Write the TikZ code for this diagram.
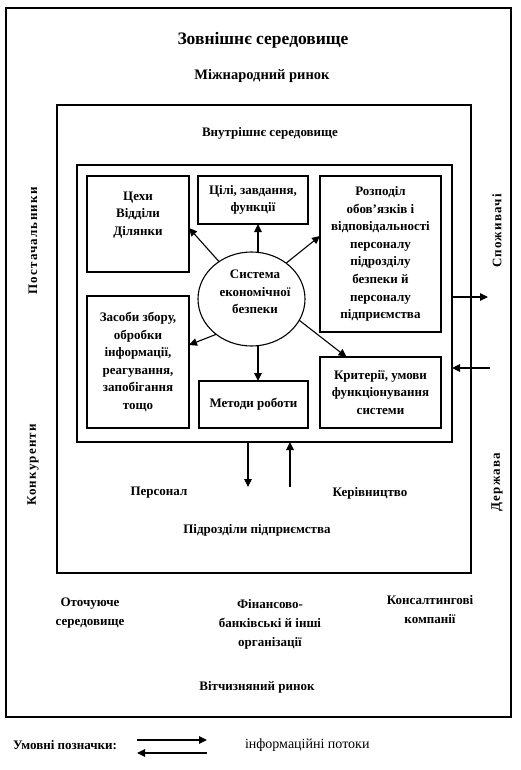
\documentclass[tikz,border=0pt]{standalone}
\usepackage{fontspec}
\setmainfont{Liberation Serif}
\usetikzlibrary{arrows.meta,shapes.geometric}
\begin{document}
\begin{tikzpicture}[x=1pt,y=-1pt,
  every node/.style={inner sep=0pt, outer sep=0pt},
  frame/.style={draw, line width=1.3pt},
  box/.style={draw, line width=1.1pt},
  txt/.style={font=\fontsize{13}{17.6}\selectfont\bfseries, align=center},
  low/.style={font=\fontsize{13}{19}\selectfont\bfseries, align=center},
  side/.style={font=\fontsize{13}{15}\selectfont\bfseries\addfontfeature{LetterSpace=9}, rotate=90},
  arr/.style={line width=1.1pt, -{Triangle[length=8pt,width=7.5pt]}}]
\useasboundingbox (0,0) rectangle (520,770);
% frames
\node[frame, minimum width=505pt, minimum height=709pt] (outer) at (258.5,362.5) {};
\node[frame, minimum width=414pt, minimum height=468pt] (mid) at (264,339) {};
\node[frame, minimum width=375pt, minimum height=277pt] (inner) at (264.5,303.5) {};
% titles
\node[font=\fontsize{17.5}{20}\selectfont\bfseries] (t1) at (263,40) {Зовнішнє середовище};
\node[font=\fontsize{14.5}{17}\selectfont\bfseries] (t2) at (262,76) {Міжнародний ринок};
\node[txt] (t3) at (270,133) {Внутрішнє середовище};
% side labels
\node[side] (s1) at (33,241) {Постачальники};
\node[side] (s2) at (33,465) {Конкуренти};
\node[side] (s3) at (497,231) {Споживачі};
\node[side] (s4) at (497,482) {Держава};
% inner boxes
\node[box, minimum width=102pt, minimum height=96pt] (cekhy) at (138,224) {};
\node[txt] (cekhyt) at (138,215) {Цехи\\Відділи\\Ділянки};
\node[box, txt, minimum width=110pt, minimum height=48pt] (cili) at (253,200) {Цілі, завдання,\\функції};
\node[box, txt, minimum width=121pt, minimum height=156pt] (rozp) at (380.5,254) {Розподіл\\обов'язків і\\відповідальності\\персоналу\\підрозділу\\безпеки й\\персоналу\\підприємства};
\node[box, txt, minimum width=102pt, minimum height=132pt] (zasoby) at (138,362) {Засоби збору,\\обробки\\інформації,\\реагування,\\запобігання\\тощо};
\node[box, txt, minimum width=109pt, minimum height=47pt] (metody) at (253.5,404.5) {Методи роботи};
\node[box, txt, minimum width=121pt, minimum height=71pt] (kryt) at (380.5,392.5) {Критерії, умови\\функціонування\\системи};
% ellipse
\node[draw, line width=1.1pt, ellipse, minimum width=107pt, minimum height=94pt] (sys) at (251.5,299) {};
\node[txt] (syst) at (255,292) {Система\\економічної\\безпеки};
% ellipse arrows
\draw[arr] (sys.131) -- ([yshift=-4pt]cekhy.east);
\draw[arr] ([xshift=6.5pt]sys.north) -- ([xshift=5pt]cili.south);
\draw[arr] (sys.46) -- ([yshift=18pt]rozp.west);
\draw[arr] (sys.225) -- ([yshift=17pt]zasoby.east);
\draw[arr] ([xshift=6.5pt]sys.south) -- ([xshift=4.5pt]metody.north);
\draw[arr] (sys.336) -- ([xshift=-34pt]kryt.north);
% flows bottom
\coordinate (pdown) at (248,487);
\coordinate (kup) at (290,487);
\draw[arr] (inner.south -| pdown) -- (pdown);
\draw[arr] (kup) -- (inner.south -| kup);
\node[txt] (pers) at (159,493) {Персонал};
\node[txt] (kerl) at (370,493) {Керівництво};
\node[txt] (pidr) at (257,530) {Підрозділи підприємства};
% flows right
\coordinate (spout) at (488,297);
\coordinate (derzin) at (490,368);
\draw[arr] (inner.east |- spout) -- (spout);
\draw[arr] (derzin) -- (inner.east |- derzin);
% bottom environment
\node[low] (otoch) at (90,613) {Оточуюче\\середовище};
\node[low] (fin) at (270,624) {Фінансово-\\банківські й інші\\організації};
\node[low] (kons) at (430,610) {Консалтингові\\компанії};
\node[txt] (vitch) at (257,687) {Вітчизняний ринок};
% legend
\node[txt, anchor=west] (leg) at (13,745) {Умовні позначки:};
\coordinate (la) at (137,740);
\coordinate (lb) at (207,740);
\coordinate (lc) at (207,753);
\coordinate (ld) at (137,753);
\draw[arr] (la) -- (lb);
\draw[arr] (lc) -- (ld);
\node[font=\fontsize{14}{16}\selectfont, anchor=west] (legt) at (245,745) {інформаційні потоки};
\end{tikzpicture}
\end{document}
